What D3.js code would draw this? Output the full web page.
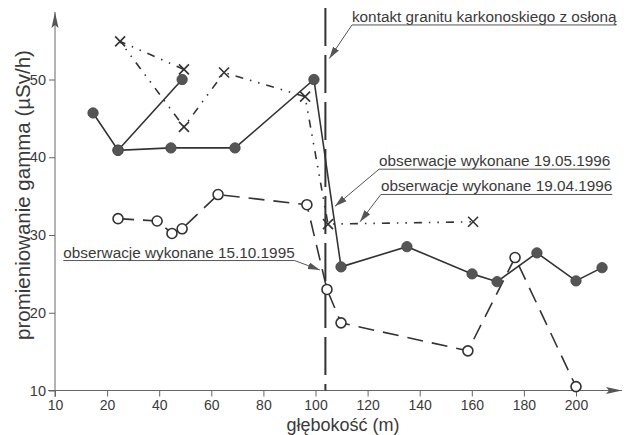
<!DOCTYPE html>
<html><head><meta charset="utf-8">
<script src="https://cdn.jsdelivr.net/npm/d3@7"></script>
<style>
html,body{margin:0;padding:0;background:#fff;}
svg text{font-family:"Liberation Sans",Arial,sans-serif;fill:#3a3a3a;}
</style></head>
<body><svg id="c" width="634" height="435"></svg>
<script>
// ---- data ----
const xTickValues = [0, 20, 40, 60, 80, 100, 120, 140, 160, 180, 200];
const xTickLabels = ["10", "20", "40", "60", "80", "100", "120", "140", "160", "180", "200"];
const yTickValues = [10, 20, 30, 40, 50];

// observations 19.05.1996 (filled circles, solid line) – [depth m, value]
const obs19051996 = [[14.6,45.7],[24.2,40.9],[48.8,50.0],[24.2,40.9],[44.5,41.2],[69.1,41.2],[99.4,50.0],
  [109.8,25.9],[135.1,28.5],[160.1,25.0],[169.7,24.0],[185.0,27.7],[200.0,24.1],[210.0,25.8]];
// observations 19.04.1996 (crosses, dash-dot line)
const obs19041996 = [[49.5,51.3],[25.0,54.9],[49.5,43.9],[64.9,50.9],[96.0,47.8],[104.8,31.4],[160.5,31.7]];
// observations 15.10.1995 (open circles, dashed line)
const obs15101995 = [[24.2,32.1],[39.2,31.8],[44.9,30.2],[48.8,30.8],[62.6,35.2],[96.7,33.9],[104.4,23.0],
  [109.8,18.7],[158.5,15.1],[176.6,27.1],[200.0,10.5]];
const contactDepth = [103.8];

const xTitle = "głębokość (m)";
const yTitle = "promieniowanie gamma (µSv/h)";
const annotationTexts = ["kontakt granitu karkonoskiego z osłoną", "obserwacje wykonane 19.05.1996",
  "obserwacje wykonane 19.04.1996", "obserwacje wykonane 15.10.1995"];

// ---- drawing ----
const svg = d3.select("#c");
const x = d3.scaleLinear().domain([0, 200]).range([55, 576]);
const y = d3.scaleLinear().domain([10, 50]).range([390.5, 79.5]);
const ink = "#3a3a3a";

const defs = svg.append("defs");
defs.append("marker").attr("id","ah").attr("markerUnits","userSpaceOnUse")
  .attr("markerWidth",12).attr("markerHeight",8).attr("refX",12).attr("refY",4).attr("orient","auto")
  .append("path").attr("d","M0,0.5 L12,4 L0,7.5 Z").attr("fill","#555");
defs.append("marker").attr("id","axh").attr("markerUnits","userSpaceOnUse")
  .attr("markerWidth",16).attr("markerHeight",8).attr("refX",16).attr("refY",4).attr("orient","auto")
  .append("path").attr("d","M0,0.5 L16,4 L0,7.5 L3,4 Z").attr("fill","#555");

// axes
const xAxis = d3.axisBottom(x).tickValues(xTickValues).tickSize(6).tickPadding(4)
  .tickFormat((d,i)=>xTickLabels[i]);
const gx = svg.append("g").attr("transform",`translate(0,${y(10)})`).call(xAxis);
gx.select(".domain").remove();
gx.selectAll("text").attr("font-size",14).style("fill",ink);
gx.selectAll("line").attr("stroke","#666");
svg.append("line").attr("x1",48).attr("x2",622).attr("y1",y(10)).attr("y2",y(10))
  .attr("stroke","#666").attr("stroke-width",1).attr("marker-end","url(#axh)");

const yAxis = d3.axisLeft(y).tickValues(yTickValues).tickSize(6).tickPadding(3);
const gy = svg.append("g").attr("transform",`translate(${x(0)},0)`).call(yAxis);
gy.select(".domain").remove();
gy.selectAll("text").attr("font-size",14.5).style("fill",ink);
gy.selectAll("line").attr("stroke","#666");
svg.append("line").attr("x1",x(0)).attr("x2",x(0)).attr("y1",397).attr("y2",12)
  .attr("stroke","#666").attr("stroke-width",1).attr("marker-end","url(#axh)");

svg.append("text").attr("x",343).attr("y",431).attr("text-anchor","middle")
  .attr("font-size",18).text(xTitle);
svg.append("text").attr("transform","translate(30,195) rotate(-90)").attr("text-anchor","middle")
  .attr("font-size",20.5).text(yTitle);

// contact line
svg.selectAll(".contact").data(contactDepth).enter().append("line")
  .attr("x1",d=>x(d)).attr("x2",d=>x(d)).attr("y1",8).attr("y2",y(10))
  .attr("stroke","#333").attr("stroke-width",2).attr("stroke-dasharray","38,9");

const line = d3.line().x(d=>x(d[0])).y(d=>y(d[1]));

// series lines
svg.append("path").datum(obs15101995).attr("d",line).attr("fill","none")
  .attr("stroke","#333").attr("stroke-width",1.6).attr("stroke-dasharray","16,9");
svg.append("path").datum(obs19041996).attr("d",line).attr("fill","none")
  .attr("stroke","#333").attr("stroke-width",1.6).attr("stroke-dasharray","8,7,1.5,7,1.5,7");
svg.append("path").datum(obs19051996).attr("d",line).attr("fill","none")
  .attr("stroke","#333").attr("stroke-width",1.6);

// markers
svg.selectAll(".oc").data(obs15101995).enter().append("circle")
  .attr("cx",d=>x(d[0])).attr("cy",d=>y(d[1])).attr("r",5)
  .attr("fill","#fff").attr("stroke","#333").attr("stroke-width",1.6);
svg.selectAll(".fc").data(obs19051996).enter().append("circle")
  .attr("cx",d=>x(d[0])).attr("cy",d=>y(d[1])).attr("r",5.2)
  .attr("fill","#555").attr("stroke","#444").attr("stroke-width",0.8);
svg.selectAll(".xm").data(obs19041996).enter().append("path")
  .attr("transform",d=>`translate(${x(d[0])},${y(d[1])})`)
  .attr("d","M-5,-5L5,5M-5,5L5,-5").attr("stroke","#333").attr("stroke-width",1.6);

// annotations: [text index, label x (m), label baseline value, tip x (m), tip value, arrow from end?]
const ann = [
  [0, 114.0, 57.4, 105.3, 52.7, false],
  [1, 124.4, 38.85, 107.5, 33.7, false],
  [2, 125.1, 35.6, 117.1, 31.7, false],
  [3, 3.2, 27.1, 101.7, 25.5, true]
];
ann.forEach(a=>{
  const tx = x(a[1]), ty = y(a[2]);
  const t = svg.append("text").attr("x",tx).attr("y",ty).attr("font-size",15.3).text(annotationTexts[a[0]]);
  const w = t.node().getComputedTextLength();
  svg.append("line").attr("x1",tx).attr("x2",tx+w).attr("y1",ty+3).attr("y2",ty+3)
    .attr("stroke","#555").attr("stroke-width",1);
  const sx = a[5] ? tx+w : tx;
  svg.append("line").attr("x1",sx).attr("y1",ty+3).attr("x2",x(a[3])).attr("y2",y(a[4]))
    .attr("stroke","#555").attr("stroke-width",1).attr("marker-end","url(#ah)");
});
</script></body></html>
